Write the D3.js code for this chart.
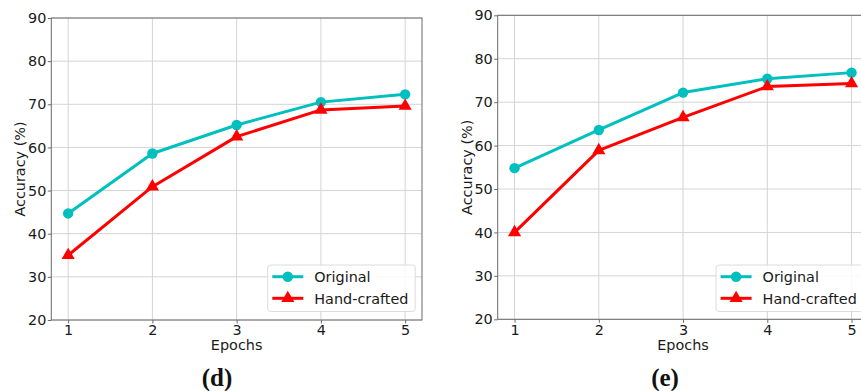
<!DOCTYPE html>
<html>
<head>
<meta charset="utf-8">
<script src="https://cdn.jsdelivr.net/npm/d3@7"></script>
<style>
  html, body { margin: 0; padding: 0; background: #fff; overflow: hidden; }
  svg { display: block; }
</style>
</head>
<body>
<svg id="chart" width="861" height="391"></svg>
<script>
// ---- data ----
const epochs = [1, 2, 3, 4, 5];
const yTicks = [20, 30, 40, 50, 60, 70, 80, 90];
const seriesNames = ["Original", "Hand-crafted"];
const seriesColors = ["#00bfbf", "#ff0000"];
const panelLabels = ["(d)", "(e)"];
const originalD = [44.7, 58.6, 65.2, 70.5, 72.3];
const handcraftedD = [35.0, 50.9, 62.5, 68.7, 69.6];
const originalE = [54.8, 63.6, 72.2, 75.4, 76.8];
const handcraftedE = [40.0, 58.9, 66.5, 73.6, 74.3];

const svg = d3.select("#chart");
const FS = 14.4;
const SANS = "'DejaVu Sans', sans-serif";

const panels = [
  { label: panelLabels[0], series: [originalD, handcraftedD],
    left: 51.3, right: 422, top: 18, bottom: 320, legendX: 267.7, captionX: 217 },
  { label: panelLabels[1], series: [originalE, handcraftedE],
    left: 497.7, right: 868.4, top: 15.3, bottom: 319.3, legendX: 716, captionX: 665 }
];

panels.forEach(p => {
  const g = svg.append("g");
  const x = d3.scaleLinear().domain([0.8, 5.2]).range([p.left, p.right]);
  const y = d3.scaleLinear().domain([20, 90]).range([p.bottom, p.top]);

  // grid
  g.append("g").selectAll("line").data(epochs).join("line")
    .attr("x1", d => x(d)).attr("x2", d => x(d))
    .attr("y1", p.top).attr("y2", p.bottom)
    .attr("stroke", "#d4d4d4").attr("stroke-width", 1);
  g.append("g").selectAll("line").data(yTicks).join("line")
    .attr("x1", p.left).attr("x2", p.right)
    .attr("y1", d => y(d)).attr("y2", d => y(d))
    .attr("stroke", "#d4d4d4").attr("stroke-width", 1);

  // frame
  g.append("rect").attr("x", p.left).attr("y", p.top)
    .attr("width", p.right - p.left).attr("height", p.bottom - p.top)
    .attr("fill", "none").attr("stroke", "#6a6a6a").attr("stroke-width", 1);

  // axes
  const xAxis = g.append("g").attr("transform", `translate(0,${p.bottom})`)
    .call(d3.axisBottom(x).tickValues(epochs).tickFormat(d3.format("d")).tickSize(3.5).tickPadding(1.5));
  const yAxis = g.append("g").attr("transform", `translate(${p.left},0)`)
    .call(d3.axisLeft(y).tickValues(yTicks).tickFormat(d3.format("d")).tickSize(3.5).tickPadding(1.5));
  [xAxis, yAxis].forEach(a => {
    a.select(".domain").remove();
    a.selectAll(".tick line").attr("stroke", "#6a6a6a");
    a.selectAll(".tick text").style("font-size", FS + "px").style("font-family", SANS).attr("fill", "#1a1a1a");
  });

  // axis labels
  g.append("text").attr("x", (x(1) + x(5)) / 2).attr("y", 350)
    .attr("text-anchor", "middle").style("font-size", FS + "px").style("font-family", SANS)
    .attr("fill", "#1a1a1a").text("Epochs");
  g.append("text")
    .attr("transform", `translate(${p.left - 26},${(p.top + p.bottom) / 2}) rotate(-90)`)
    .attr("text-anchor", "middle").style("font-size", FS + "px").style("font-family", SANS)
    .attr("fill", "#1a1a1a").text("Accuracy (%)");

  // lines and markers
  const line = d3.line().x((d, i) => x(epochs[i])).y(d => y(d));
  p.series.forEach((s, si) => {
    g.append("path").datum(s).attr("d", line)
      .attr("fill", "none").attr("stroke", seriesColors[si]).attr("stroke-width", 3)
      .attr("stroke-linejoin", "round");
    const sym = si === 0 ? d3.symbolCircle : d3.symbolTriangle;
    const size = si === 0 ? 85 : 75;
    g.append("g").selectAll("path").data(s).join("path")
      .attr("transform", (d, i) => `translate(${x(epochs[i])},${y(d)})`)
      .attr("d", d3.symbol().type(sym).size(size))
      .attr("fill", seriesColors[si]);
  });

  // legend
  const lg = g.append("g");
  lg.append("rect").attr("x", p.legendX).attr("y", 265).attr("width", 147.5).attr("height", 46.5)
    .attr("rx", 3).attr("fill", "rgba(255,255,255,0.85)").attr("stroke", "#dcdcdc").attr("stroke-width", 1);
  seriesNames.forEach((name, si) => {
    const cy = 276.7 + si * 21.6;
    const lx = p.legendX + 4.6;
    lg.append("line").attr("x1", lx).attr("x2", lx + 31).attr("y1", cy).attr("y2", cy)
      .attr("stroke", seriesColors[si]).attr("stroke-width", 3);
    lg.append("path").attr("transform", `translate(${lx + 15.5},${cy})`)
      .attr("d", d3.symbol().type(si === 0 ? d3.symbolCircle : d3.symbolTriangle).size(si === 0 ? 85 : 75))
      .attr("fill", seriesColors[si]);
    lg.append("text").attr("x", p.legendX + 46.6).attr("y", cy + 5.2)
      .style("font-size", FS + "px").style("font-family", SANS).attr("fill", "#1a1a1a").text(name);
  });

  // caption
  g.append("text").attr("x", p.captionX).attr("y", 386)
    .attr("text-anchor", "middle").style("font-family", "'Liberation Serif', serif")
    .style("font-weight", "bold").style("font-size", "25px").attr("fill", "#111").text(p.label);
});
</script>
</body>
</html>
